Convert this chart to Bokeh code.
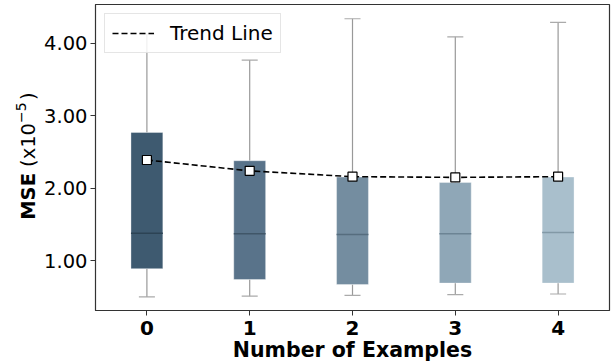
import math
from bokeh.plotting import figure
from bokeh.layouts import row
from bokeh.models import ColumnDataSource, Label, FixedTicker, NumeralTickFormatter, Range1d
from bokeh.embed import file_html
from bokeh.resources import INLINE

categories = [0, 1, 2, 3, 4]
q1 = [0.89, 0.74, 0.67, 0.69, 0.69]
medians = [1.38, 1.37, 1.36, 1.37, 1.39]
q3 = [2.77, 2.38, 2.155, 2.08, 2.155]
whisker_low = [0.50, 0.51, 0.52, 0.53, 0.54]
whisker_high = [4.13, 3.77, 4.34, 4.09, 4.29]
trend = [2.39, 2.24, 2.16, 2.15, 2.16]
box_colors = ["#3e5a70", "#59738a", "#748da0", "#8fa7b7", "#a9bfcc"]
median_colors = ["#2c4354", "#405668", "#566d7e", "#6c8494", "#8299a6"]
y_ticks = [1, 2, 3, 4]

Y0, Y1 = 0.312, 4.537

# narrow side figure carrying the y-axis title (mixed weight, superscript exponent)
side = figure(width=40, height=364, output_backend="svg", toolbar_location=None,
              x_range=Range1d(0, 40), y_range=Range1d(Y0, Y1),
              x_axis_location=None, y_axis_location=None,
              min_border_left=0, min_border_right=0, min_border_top=4, min_border_bottom=53)
side.outline_line_color = None
side.xgrid.visible = False
side.ygrid.visible = False
side.add_layout(Label(x=28, y=2.21, text="MSE", angle=math.pi / 2,
                      text_align="right", text_baseline="middle", text_font="DejaVu Sans",
                      text_font_size="19.5px", text_font_style="bold", text_color="black"))
side.add_layout(Label(x=28, y=2.294, text="(x10",
                      angle=math.pi / 2, text_align="left", text_baseline="middle",
                      text_font="DejaVu Sans", text_font_size="19.5px", text_color="black"))
side.add_layout(Label(x=20.5, y=2.90, text="\u22125",
                      angle=math.pi / 2, text_align="left", text_baseline="middle",
                      text_font="DejaVu Sans", text_font_size="14px", text_color="black"))
side.add_layout(Label(x=28, y=3.22, text=")",
                      angle=math.pi / 2, text_align="left", text_baseline="middle",
                      text_font="DejaVu Sans", text_font_size="19.5px", text_color="black"))

p = figure(width=573, height=364, output_backend="svg", toolbar_location=None,
           x_range=Range1d(-0.5, 4.5), y_range=Range1d(Y0, Y1),
           min_border_left=55, min_border_right=4, min_border_top=4, min_border_bottom=53)
p.xgrid.visible = False
p.ygrid.visible = False
p.outline_line_color = "#333333"
p.outline_line_width = 1.2
p.background_fill_color = "white"
p.border_fill_color = "white"

src = ColumnDataSource(dict(x=categories, q1=q1, med=medians, q3=q3, lo=whisker_low, hi=whisker_high,
                            color=box_colors, trend=trend))

# whiskers
p.segment(x0="x", y0="q3", x1="x", y1="hi", source=src, line_color="#999999", line_width=1.2)
p.segment(x0="x", y0="lo", x1="x", y1="q1", source=src, line_color="#999999", line_width=1.2)
# caps
cap = 0.078
capsrc = ColumnDataSource(dict(x0=[c - cap for c in categories], x1=[c + cap for c in categories],
                               lo=whisker_low, hi=whisker_high))
p.segment(x0="x0", y0="hi", x1="x1", y1="hi", source=capsrc, line_color="#aaaaaa", line_width=1.2)
p.segment(x0="x0", y0="lo", x1="x1", y1="lo", source=capsrc, line_color="#aaaaaa", line_width=1.2)
# boxes
p.vbar(x="x", width=0.31, bottom="q1", top="q3", source=src, fill_color="color",
       line_color="white", line_alpha=0.35, line_width=1)
# medians
msrc = ColumnDataSource(dict(x0=[c - 0.155 for c in categories], x1=[c + 0.155 for c in categories],
                             med=medians, mcolor=median_colors))
p.segment(x0="x0", y0="med", x1="x1", y1="med", source=msrc, line_color="mcolor", line_width=1.5)

# trend line
p.line(x="x", y="trend", source=src, line_color="black", line_width=1.6, line_dash="6 3",
       legend_label="Trend Line")
p.scatter(x="x", y="trend", source=src, marker="square", size=9, fill_color="white",
          line_color="black", line_width=1.2)

# axes
p.xaxis.ticker = FixedTicker(ticks=categories)
p.yaxis.ticker = FixedTicker(ticks=y_ticks)
p.yaxis.formatter = NumeralTickFormatter(format="0.00")
for ax in (p.xaxis[0], p.yaxis[0]):
    ax.axis_line_color = "#333333"
    ax.major_tick_line_color = "#333333"
    ax.major_tick_out = 5
    ax.major_tick_in = 0
    ax.minor_tick_line_color = None
    ax.major_label_text_color = "black"
    ax.major_label_text_font = "DejaVu Sans"
p.yaxis.major_label_text_font_size = "19.5px"
p.yaxis.major_label_standoff = 3
p.xaxis.major_label_text_font_size = "20px"
p.xaxis.major_label_text_font_style = "bold"
p.xaxis.major_label_standoff = 5
p.xaxis.axis_label = "Number of Examples"
p.xaxis.axis_label_text_font = "DejaVu Sans"
p.xaxis.axis_label_text_font_size = "20.5px"
p.xaxis.axis_label_text_font_style = "bold"
p.xaxis.axis_label_text_color = "black"
p.xaxis.axis_label_standoff = 0

# legend
lg = p.legend[0]
lg.location = "top_left"
lg.margin = 9
lg.padding = 7
lg.label_text_font = "DejaVu Sans"
lg.label_text_font_size = "20px"
lg.label_text_color = "black"
lg.glyph_width = 42
lg.glyph_height = 22
lg.label_standoff = 16
lg.border_line_color = "#cccccc"
lg.border_line_width = 1
lg.background_fill_alpha = 0.85

layout = row(side, p, spacing=0)
open("out.html", "w").write(file_html(layout, INLINE))
